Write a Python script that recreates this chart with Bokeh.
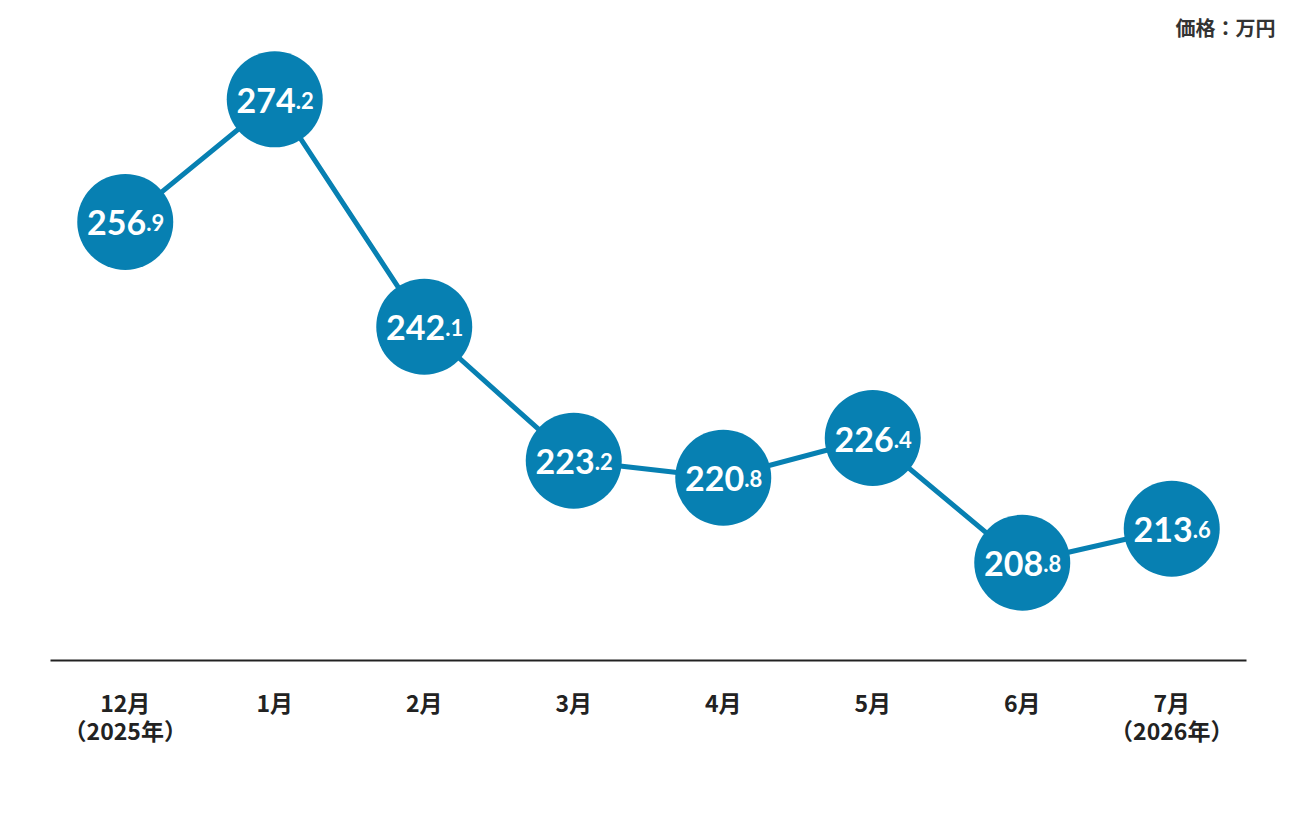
from bokeh.plotting import figure
from bokeh.models import ColumnDataSource, Range1d, Title
from bokeh.core.properties import value
from bokeh.embed import file_html
from bokeh.resources import INLINE

months = ["12月\n（2025年）", "1月", "2月", "3月", "4月", "5月", "6月", "7月\n（2026年）"]
prices = [256.9, 274.2, 242.1, 223.2, 220.8, 226.4, 208.8, 213.6]
unit_label = "価格：万円"

int_parts = [f"{v:.1f}".split(".")[0] for v in prices]
dec_parts = ["." + f"{v:.1f}".split(".")[1] for v in prices]

BLUE = "#0780B2"
src = ColumnDataSource(dict(x=months, y=prices, ip=int_parts, dp=dec_parts))

p = figure(width=1280, height=800, x_range=months, y_range=Range1d(195, 282.5),
           output_backend="svg", toolbar_location=None, y_axis_location=None,
           min_border_left=50, min_border_right=34, min_border_top=40, min_border_bottom=140)
p.outline_line_color = None
p.grid.visible = False
p.background_fill_color = "white"

p.line("x", "y", source=src, line_color=BLUE, line_width=5)
p.scatter("x", "y", source=src, size=96, fill_color=BLUE, line_color=None)
p.text("x", "y", text="ip", source=src, text_color="white", text_align="right",
       text_baseline="alphabetic", x_offset=21, y_offset=1,
       text_font=value("Lato"), text_font_size="34px", text_font_style="bold")
p.text("x", "y", text="dp", source=src, text_color="white", text_align="left",
       text_baseline="alphabetic", x_offset=21, y_offset=1,
       text_font=value("Lato"), text_font_size="22px", text_font_style="bold")

ax = p.xaxis[0]
ax.axis_line_color = "#222222"
ax.axis_line_width = 2
ax.major_tick_line_color = None
ax.minor_tick_line_color = None
ax.major_label_standoff = 18
ax.major_label_text_font = "Noto Sans CJK JP"
ax.major_label_text_font_size = "23px"
ax.major_label_text_font_style = "bold"
ax.major_label_text_color = "#222222"
ax.major_label_text_line_height = 0.85

t = Title(text=unit_label, align="right", offset=-29, standoff=-2, text_font="Noto Sans CJK JP",
          text_font_size="20px", text_font_style="bold", text_color="#333333")
p.add_layout(t, "above")

open("out.html", "w").write(file_html(p, INLINE))
